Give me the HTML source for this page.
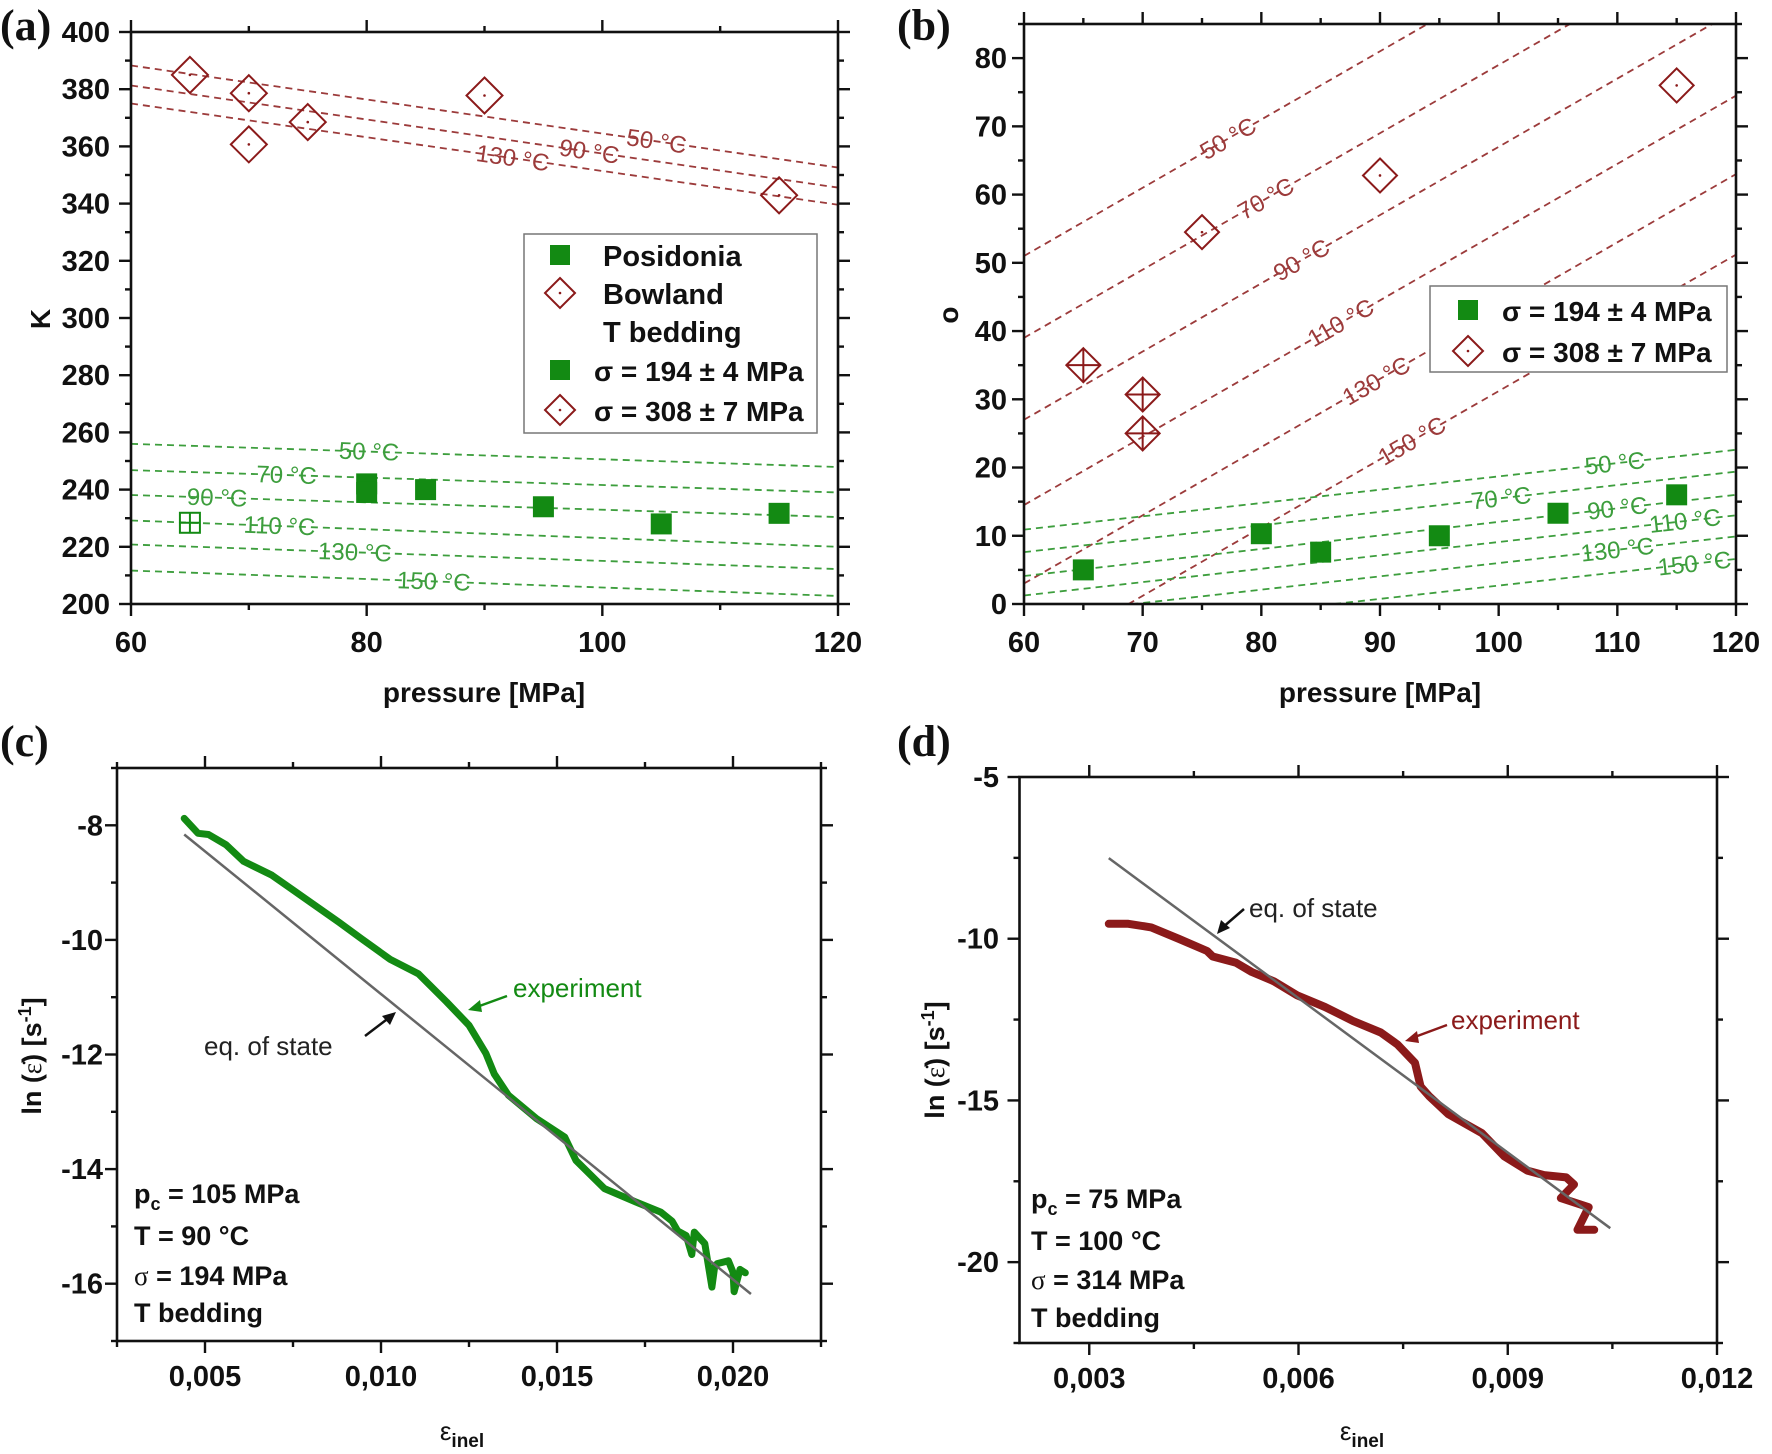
<!DOCTYPE html>
<html><head><meta charset="utf-8">
<style>
html,body{margin:0;padding:0;background:#fff;}
svg{display:block;}
text{font-family:"Liberation Sans",Arial,sans-serif;}
</style></head>
<body>
<svg id="fig" xmlns="http://www.w3.org/2000/svg" width="1772" height="1454" viewBox="0 0 1772 1454">
<rect x="0" y="0" width="1772" height="1454" fill="#fff"/>
<defs id="defs"></defs>
</svg>
<script>
// ---------- Panel (a) data ----------
const aBowX=[65,70,70,75,90,115];
const aBowK=[385,378.6,360.7,368.5,377.8,342.9];
const aPosX=[80,80,85,95,105,115];
const aPosK=[242,239,240,234,228,231.7];
const aOpenX=[65];
const aOpenK=[228.4];
const aRedTemps=['50 °C','90 °C','130 °C'];
const aRedLeft=[388.3,381.3,375];
const aRedRight=[352.6,345.6,339.6];
const aRedLabelX=[104.6,98.9,92.4];
const aGreenTemps=['50 °C','70 °C','90 °C','110 °C','130 °C','150 °C'];
const aGreenLeft=[256,246.8,238.1,229.2,220.8,211.7];
const aGreenRight=[247.9,239,230.4,220,212.2,202.8];
const aGreenLabelX=[80.2,73.2,67.3,72.6,79,85.7];
const aXTicks=[60,80,100,120];
const aYTicks=[200,220,240,260,280,300,320,340,360,380,400];
// ---------- Panel (b) data ----------
const bSqX=[65,80,85,95,105,115];
const bSqY=[5,10.3,7.6,10,13.3,16];
const bDiaX=[65,70,70,75,90,115];
const bDiaY=[35,30.7,25,54.5,62.8,76];
const bDiaCross=[1,1,1,0,0,0];
const bRedTemps=['50 °C','70 °C','90 °C','110 °C','130 °C','150 °C'];
const bRedAt60=[51,39,27,14.5,3,-8.8];
const bRedAt120=[111,99,87,74.5,63,51.2];
const bRedLabelX=[77.2,80.4,83.4,86.7,89.7,92.7];
const bGreenTemps=['50 °C','70 °C','90 °C','110 °C','130 °C','150 °C'];
const bGreenLeft=[10.9,7.6,4.1,1.25,-1.8,-5.1];
const bGreenRight=[22.6,19.4,16.0,13.0,9.9,6.6];
const bGreenLabelX=[109.8,100.2,110,115.7,110,116.5];
const bXTicks=[60,70,80,90,100,110,120];
const bYTicks=[0,10,20,30,40,50,60,70,80];
// ---------- Panel (c) data ----------
const cExpX=[0.00441,0.0048,0.0051,0.0056,0.0061,0.0069,0.00785,0.0088,0.00945,0.01026,0.01106,0.01186,0.0125,0.01298,0.01322,0.01362,0.01442,0.01522,0.01554,0.01635,0.0173,0.01795,0.01827,0.01843,0.01867,0.01883,0.0189,0.0192,0.0194,0.01948,0.01955,0.01987,0.02,0.02003,0.0202,0.02035];
const cExpY=[-7.88,-8.14,-8.16,-8.34,-8.63,-8.87,-9.28,-9.69,-9.98,-10.34,-10.59,-11.08,-11.49,-11.98,-12.34,-12.71,-13.12,-13.44,-13.85,-14.34,-14.59,-14.75,-14.91,-15.08,-15.16,-15.49,-15.1,-15.3,-16.06,-15.7,-15.65,-15.6,-15.8,-16.14,-15.75,-15.81];
const cEosX=[0.00441,0.02051];
const cEosY=[-8.16,-16.18];
const cXTicks=[0.005,0.010,0.015,0.020];
const cXTickLabels=['0,005','0,010','0,015','0,020'];
const cYTicks=[-16,-14,-12,-10,-8];
// ---------- Panel (d) data ----------
const dExpX=[0.00328,0.00356,0.00389,0.00429,0.00469,0.00477,0.0051,0.00533,0.00565,0.00598,0.00638,0.00678,0.00718,0.00742,0.00767,0.00775,0.00787,0.00815,0.00863,0.00895,0.00928,0.00952,0.00984,0.00995,0.00976,0.01016,0.01,0.01024];
const dExpY=[-9.54,-9.54,-9.65,-10.01,-10.38,-10.55,-10.74,-11.03,-11.32,-11.75,-12.11,-12.54,-12.9,-13.27,-13.84,-14.57,-14.86,-15.43,-16.01,-16.73,-17.17,-17.31,-17.38,-17.6,-18.02,-18.3,-19.0,-19.0];
const dEosX=[0.00328,0.01047];
const dEosY=[-7.51,-18.95];
const dXTicks=[0.003,0.006,0.009,0.012];
const dXTickLabels=['0,003','0,006','0,009','0,012'];
const dYTicks=[-20,-15,-10,-5];

const NS='http://www.w3.org/2000/svg';
const fig=document.getElementById('fig');
const defs=document.getElementById('defs');
const RED='#8b1a1a', GREEN='#138a13', LRED='#9c3b3b', LGREEN='#3d9e3d';
const SERIF='font-family:"Liberation Serif",serif';
function mk(tag,attrs,parent){const e=document.createElementNS(NS,tag);for(const k in attrs)e.setAttribute(k,attrs[k]);(parent||fig).appendChild(e);return e;}

function axes(id,x0,x1,y0,y1,xmin,xmax,ymin,ymax){
  const g=mk('g',{});
  
  
  const sx=v=>x0+(v-xmin)/(xmax-xmin)*(x1-x0);
  const sy=v=>y1-(v-ymin)/(ymax-ymin)*(y1-y0);
  const cp=mk('clipPath',{id:'clip-'+id},defs);
  mk('rect',{x:x0,y:y0,width:x1-x0,height:y1-y0},cp);
  const plot=mk('g',{'clip-path':'url(#clip-'+id+')'},g);
  
  
  return {id,g,plot,sx,sy,x0,x1,y0,y1};
}
function frame(ax,xMaj,xMin,yMaj,yMin,xLab,yLab,xLabY,yLabX){
  const f=mk('rect',{x:ax.x0,y:ax.y0,width:ax.x1-ax.x0,height:ax.y1-ax.y0,fill:'none',stroke:'#111','stroke-width':2.6},ax.g);
  
  
  const tk=(x1,y1,x2,y2)=>{const t=mk('line',{x1,y1,x2,y2,stroke:'#111','stroke-width':2.4},ax.g);
    
    };
  xMaj.forEach(v=>{const x=ax.sx(v);tk(x,ax.y1,x,ax.y1+12);tk(x,ax.y0,x,ax.y0-12);});
  xMin.forEach(v=>{const x=ax.sx(v);tk(x,ax.y1,x,ax.y1+6);tk(x,ax.y0,x,ax.y0-6);});
  yMaj.forEach(v=>{const y=ax.sy(v);tk(ax.x0,y,ax.x0-12,y);tk(ax.x1,y,ax.x1+12,y);});
  yMin.forEach(v=>{const y=ax.sy(v);tk(ax.x0,y,ax.x0-6,y);tk(ax.x1,y,ax.x1+6,y);});
  xMaj.forEach((v,i)=>{const t=mk('text',{x:ax.sx(v),y:xLabY,'text-anchor':'middle','font-size':29,'font-weight':'bold',fill:'#111'},ax.g);
    t.textContent=xLab[i];
    
    });
  yMaj.forEach((v,i)=>{const t=mk('text',{x:yLabX,y:ax.sy(v)+10,'text-anchor':'end','font-size':29,'font-weight':'bold',fill:'#111'},ax.g);
    t.textContent=yLab[i];
    
    });
}
function seg(ax,xa,ya,xb,yb,color,name){
  const l=mk('line',{x1:ax.sx(xa),y1:ax.sy(ya),x2:ax.sx(xb),y2:ax.sy(yb),stroke:color,'stroke-width':1.8,'stroke-dasharray':'7,5'},ax.plot);
  
  
  return Math.atan2(ax.sy(yb)-ax.sy(ya),ax.sx(xb)-ax.sx(xa))*180/Math.PI;
}
function lineLabel(ax,x,y,ang,txt,color,name){
  const X=ax.sx(x),Y=ax.sy(y);
  const t=mk('text',{x:X,y:Y+8,'text-anchor':'middle','font-size':24,fill:color,transform:`rotate(${ang} ${X} ${Y})`},ax.g);
  t.textContent=txt;
  
  
}
function square(parent,X,Y,s,name,fill){
  const r=mk('rect',{x:X-s/2,y:Y-s/2,width:s,height:s,fill:fill||GREEN},parent);
  
  
}
function diamond(parent,X,Y,h,cross,name){
  const g=mk('g',{},parent);
  
  
  mk('polygon',{points:`${X},${Y-h} ${X+h},${Y} ${X},${Y+h} ${X-h},${Y}`,fill:'none',stroke:RED,'stroke-width':2},g);
  if(cross){mk('line',{x1:X-h,y1:Y,x2:X+h,y2:Y,stroke:RED,'stroke-width':2},g);mk('line',{x1:X,y1:Y-h,x2:X,y2:Y+h,stroke:RED,'stroke-width':2},g);}
  else mk('circle',{cx:X,cy:Y,r:1.3,fill:RED},g);
}
function txt(x,y,s,attrs,name,parent){
  const t=mk('text',Object.assign({x,y,fill:'#111'},attrs),parent);
  t.innerHTML=s;
  
  
  return t;
}
function range(a,b,st){const r=[];for(let v=a;v<=b+1e-9;v+=st)r.push(+v.toFixed(6));return r;}

// ================= Panel (a) =================
const A=axes('a',131,838,32,604,60,120,200,400);
aRedTemps.forEach((T,i)=>{
  const ang=seg(A,60,aRedLeft[i],120,aRedRight[i],LRED,'isotherm-red-'+i);
  const yv=aRedLeft[i]+(aRedRight[i]-aRedLeft[i])*(aRedLabelX[i]-60)/60;
  lineLabel(A,aRedLabelX[i],yv,ang,T,LRED,'isotherm-label-red');
});
aGreenTemps.forEach((T,i)=>{
  const ang=seg(A,60,aGreenLeft[i],120,aGreenRight[i],LGREEN,'isotherm-green-'+i);
  const yv=aGreenLeft[i]+(aGreenRight[i]-aGreenLeft[i])*(aGreenLabelX[i]-60)/60;
  lineLabel(A,aGreenLabelX[i],yv,ang,T,LGREEN,'isotherm-label-green');
});
aBowX.forEach((x,i)=>diamond(A.g,A.sx(x),A.sy(aBowK[i]),18,0,'bowland-point'));
aPosX.forEach((x,i)=>square(A.g,A.sx(x),A.sy(aPosK[i]),21,'posidonia-point'));
aOpenX.forEach((x,i)=>{const X=A.sx(x),Y=A.sy(aOpenK[i]);const g=mk('g',{},A.g);
  
  
  mk('rect',{x:X-10,y:Y-10,width:20,height:20,fill:'none',stroke:GREEN,'stroke-width':2},g);
  mk('line',{x1:X-10,y1:Y,x2:X+10,y2:Y,stroke:GREEN,'stroke-width':2},g);
  mk('line',{x1:X,y1:Y-10,x2:X,y2:Y+10,stroke:GREEN,'stroke-width':2},g);});
frame(A,aXTicks,range(70,110,20),aYTicks,range(210,390,20),aXTicks.map(String),aYTicks.map(String),652,110);
(function(){const g=mk('g',{});
  
  
  mk('rect',{x:524,y:234,width:293,height:199,fill:'#fff',stroke:'#777','stroke-width':1.5},g);
  square(g,560,255,20,'legend-posidonia-marker');
  txt(603,266,'Posidonia',{'font-size':29,'font-weight':'bold'},'legend-posidonia',g);
  diamond(g,560,293,15,0,'legend-bowland-marker');
  txt(603,304,'Bowland',{'font-size':29,'font-weight':'bold'},'legend-bowland',g);
  txt(603,342,'T bedding',{'font-size':29,'font-weight':'bold'},'legend-t-bedding',g);
  square(g,560,370,20,'legend-194-marker');
  txt(594,381,'σ = 194 ± 4 MPa',{'font-size':28,'font-weight':'bold'},'legend-194',g);
  diamond(g,560,410,15,0,'legend-308-marker');
  txt(594,421,'σ = 308 ± 7 MPa',{'font-size':28,'font-weight':'bold'},'legend-308',g);
})();
txt(40,319,'K',{'font-size':28,'font-weight':'bold','text-anchor':'middle',transform:'rotate(-90 40 319)',dy:10},'y-axis-title-a');
txt(484,702,'pressure [MPa]',{'font-size':28,'font-weight':'bold','text-anchor':'middle'},'x-axis-title-a');
txt(0,40,'(a)',{'font-size':44,'font-weight':'bold',style:SERIF},'panel-label-a');

// ================= Panel (b) =================
const B=axes('b',1024,1736,24,604,60,120,0,85);
bRedTemps.forEach((T,i)=>{
  const ang=seg(B,60,bRedAt60[i],120,bRedAt120[i],LRED,'sigma-line-red-'+i);
  const yv=bRedAt60[i]+(bRedAt120[i]-bRedAt60[i])*(bRedLabelX[i]-60)/60;
  lineLabel(B,bRedLabelX[i],yv,ang,T,LRED,'sigma-label-red');
});
bGreenTemps.forEach((T,i)=>{
  const ang=seg(B,60,bGreenLeft[i],120,bGreenRight[i],LGREEN,'sigma-line-green-'+i);
  const yv=bGreenLeft[i]+(bGreenRight[i]-bGreenLeft[i])*(bGreenLabelX[i]-60)/60;
  lineLabel(B,bGreenLabelX[i],yv,ang,T,LGREEN,'sigma-label-green');
});
bDiaX.forEach((x,i)=>diamond(B.g,B.sx(x),B.sy(bDiaY[i]),17,bDiaCross[i],'bowland-sigma-point'));
bSqX.forEach((x,i)=>square(B.g,B.sx(x),B.sy(bSqY[i]),21,'posidonia-sigma-point'));
frame(B,bXTicks,range(65,115,10),bYTicks,range(5,85,10),bXTicks.map(String),bYTicks.map(String),652,1007);
(function(){const g=mk('g',{});
  
  
  mk('rect',{x:1430,y:286,width:297,height:86,fill:'#fff',stroke:'#777','stroke-width':1.5},g);
  square(g,1468,310,20,'legend-194-marker');
  txt(1502,321,'σ = 194 ± 4 MPa',{'font-size':28,'font-weight':'bold'},'legend-194',g);
  diamond(g,1468,351,15,0,'legend-308-marker');
  txt(1502,362,'σ = 308 ± 7 MPa',{'font-size':28,'font-weight':'bold'},'legend-308',g);
})();
txt(948,315,'o',{'font-size':28,'font-weight':'bold','text-anchor':'middle',transform:'rotate(-90 948 315)',dy:10},'y-axis-title-b');
txt(1380,702,'pressure [MPa]',{'font-size':28,'font-weight':'bold','text-anchor':'middle'},'x-axis-title-b');
txt(897,40,'(b)',{'font-size':44,'font-weight':'bold',style:SERIF},'panel-label-b');

// ================= Panel (c) =================
const C=axes('c',117,821,768,1341,0.0025,0.0225,-17,-7);
(function(){
  const p=cExpX.map((x,i)=>C.sx(x).toFixed(1)+','+C.sy(cExpY[i]).toFixed(1)).join(' ');
  const l=mk('polyline',{points:p,fill:'none',stroke:GREEN,'stroke-width':7,'stroke-linejoin':'round','stroke-linecap':'round'},C.plot);
  
  
  const e=mk('line',{x1:C.sx(cEosX[0]),y1:C.sy(cEosY[0]),x2:C.sx(cEosX[1]),y2:C.sy(cEosY[1]),stroke:'#666','stroke-width':2.5},C.plot);
  
  
})();
frame(C,cXTicks,range(0.0025,0.0225,0.005),cYTicks,range(-17,-7,2),cXTickLabels,cYTicks.map(String),1386,103);
txt(513,997,'experiment',{'font-size':26,fill:GREEN},'annotation-experiment-c');
txt(204,1055,'eq. of state',{'font-size':26,fill:'#222'},'annotation-eos-c');
(function(){
  const a1=mk('line',{x1:507,y1:996,x2:474,y2:1008,stroke:GREEN,'stroke-width':2.5});
  
  
  mk('polygon',{points:'468,1010 480,1000 482,1012',fill:GREEN});
  const a2=mk('line',{x1:365,y1:1036,x2:390,y2:1017,stroke:'#111','stroke-width':2.5});
  
  
  mk('polygon',{points:'396,1012 382,1016 390,1025',fill:'#111'});
})();
txt(134,1203,'p<tspan font-size="18" dy="7">c</tspan><tspan dy="-7"> = 105 MPa</tspan>',{'font-size':27,'font-weight':'bold'},'condition-pc-c');
txt(134,1245,'T  = 90 °C',{'font-size':27,'font-weight':'bold'},'condition-t-c');
txt(134,1285,'<tspan font-weight="normal" style=\'font-family:"Liberation Serif",serif\'>σ</tspan>  = 194 MPa',{'font-size':27,'font-weight':'bold'},'condition-sigma-c');
txt(134,1322,'T bedding',{'font-size':27,'font-weight':'bold'},'condition-bedding-c');
txt(31,1056,'ln (<tspan style=\'font-family:"Liberation Serif",serif\' font-weight="normal">ε̇</tspan>) [s<tspan font-size="18" dy="-10">-1</tspan><tspan dy="10">]</tspan>',{'font-size':27,'font-weight':'bold','text-anchor':'middle',transform:'rotate(-90 31 1056)',dy:10},'y-axis-title-c');
txt(462,1440,'ε<tspan font-size="19" font-weight="bold" dy="7">inel</tspan>',{'font-size':26,'text-anchor':'middle'},'x-axis-title-c');
txt(0,756,'(c)',{'font-size':44,'font-weight':'bold',style:SERIF},'panel-label-c');

// ================= Panel (d) =================
const D=axes('d',1019.5,1717,777,1343,0.002,0.012,-22.5,-5);
(function(){
  const p=dExpX.map((x,i)=>D.sx(x).toFixed(1)+','+D.sy(dExpY[i]).toFixed(1)).join(' ');
  const l=mk('polyline',{points:p,fill:'none',stroke:RED,'stroke-width':8,'stroke-linejoin':'round','stroke-linecap':'round'},D.plot);
  
  
  const e=mk('line',{x1:D.sx(dEosX[0]),y1:D.sy(dEosY[0]),x2:D.sx(dEosX[1]),y2:D.sy(dEosY[1]),stroke:'#666','stroke-width':2.5},D.plot);
  
  
})();
frame(D,dXTicks,range(0.0045,0.0105,0.003),dYTicks,range(-22.5,-7.5,5),dXTickLabels,dYTicks.map(String),1388,999);
txt(1451,1029,'experiment',{'font-size':26,fill:RED},'annotation-experiment-d');
txt(1249,917,'eq. of state',{'font-size':26,fill:'#222'},'annotation-eos-d');
(function(){
  const a1=mk('line',{x1:1447,y1:1025,x2:1412,y2:1038,stroke:RED,'stroke-width':2.5});
  
  
  mk('polygon',{points:'1405,1041 1417,1031 1419,1043',fill:RED});
  const a2=mk('line',{x1:1244,y1:909,x2:1222,y2:928,stroke:'#111','stroke-width':2.5});
  
  
  mk('polygon',{points:'1217,934 1221,920 1230,928',fill:'#111'});
})();
txt(1031,1208,'p<tspan font-size="18" dy="7">c</tspan><tspan dy="-7"> = 75 MPa</tspan>',{'font-size':27,'font-weight':'bold'},'condition-pc-d');
txt(1031,1250,'T  = 100 °C',{'font-size':27,'font-weight':'bold'},'condition-t-d');
txt(1031,1289,'<tspan font-weight="normal" style=\'font-family:"Liberation Serif",serif\'>σ</tspan>  = 314 MPa',{'font-size':27,'font-weight':'bold'},'condition-sigma-d');
txt(1031,1327,'T bedding',{'font-size':27,'font-weight':'bold'},'condition-bedding-d');
txt(934,1060,'ln (<tspan style=\'font-family:"Liberation Serif",serif\' font-weight="normal">ε̇</tspan>) [s<tspan font-size="18" dy="-10">-1</tspan><tspan dy="10">]</tspan>',{'font-size':27,'font-weight':'bold','text-anchor':'middle',transform:'rotate(-90 934 1060)',dy:10},'y-axis-title-d');
txt(1362,1440,'ε<tspan font-size="19" font-weight="bold" dy="7">inel</tspan>',{'font-size':26,'text-anchor':'middle'},'x-axis-title-d');
txt(897,756,'(d)',{'font-size':44,'font-weight':'bold',style:SERIF},'panel-label-d');
</script>
</body></html>
